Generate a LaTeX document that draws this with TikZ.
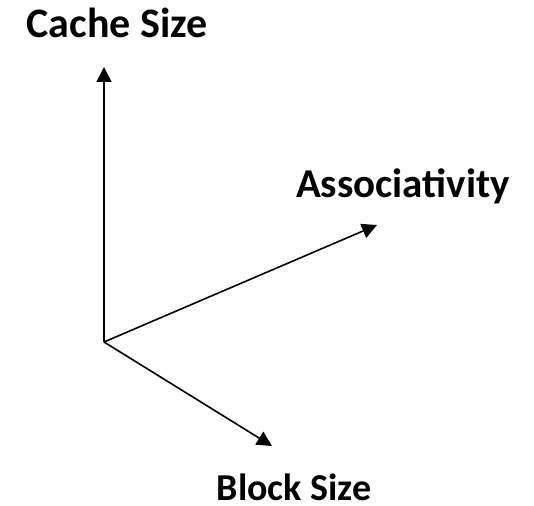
\documentclass[tikz,border=0pt]{standalone}
\usepackage{fontspec}
\setmainfont{Carlito}
\usetikzlibrary{arrows.meta}

\begin{document}
\begin{tikzpicture}[x=1pt, y=-1pt,
  axis/.style = {line width=1.6pt, -{Triangle[length=15pt, width=15pt]}},
  every node/.style = {anchor=base, inner sep=0pt,
    font=\fontsize{40}{44}\selectfont\bfseries}]
  \useasboundingbox (0,0) rectangle (534,505);
  \coordinate (o) at (104,342);
  \node[font=\fontsize{42}{46}\selectfont\bfseries] (cache) at (117,38) {Cache Size};
  \node[font=\fontsize{41}{45}\selectfont\bfseries] (assoc) at (403,197) {Associativity};
  \node[font=\fontsize{38}{42}\selectfont\bfseries] (block) at (294,500) {Block Size};
  \coordinate (cachetip) at (104,67);
  \coordinate (assoctip) at (377,225);
  \coordinate (blocktip) at (272,446);
  \draw[axis] (o) -- (cachetip);
  \draw[axis] (o) -- (assoctip);
  \draw[axis] (o) -- (blocktip);
\end{tikzpicture}
\end{document}
